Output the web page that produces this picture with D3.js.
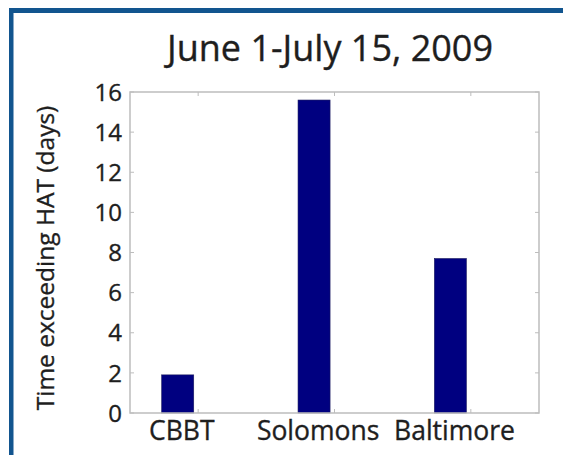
<!DOCTYPE html>
<html>
<head>
<meta charset="utf-8">
<script src="https://d3js.org/d3.v7.min.js"></script>
<style>
  html, body { margin: 0; padding: 0; background: #fff; }
  svg { display: block; }
  text { font-family: "Open Sans", "Noto Sans", sans-serif; fill: #1e1e1e; stroke: #1e1e1e; stroke-width: 0.35px; }
</style>
</head>
<body>
<script>
const categories = ["CBBT", "Solomons", "Baltimore"];
const values = [1.9, 15.6, 7.7];
const yTicks = [0, 2, 4, 6, 8, 10, 12, 14, 16];
const title = "June 1-July 15, 2009";
const yLabel = "Time exceeding HAT (days)";

(function () {
const W = 563, H = 455;
const svg = d3.select("body").append("svg").attr("width", W).attr("height", H);

// blue frame
svg.append("rect").attr("x", 9).attr("y", 8).attr("width", W - 9).attr("height", 5).attr("fill", "#12558f");
svg.append("rect").attr("x", 9).attr("y", 8).attr("width", 4.5).attr("height", H - 8).attr("fill", "#12558f");

const pL = 130, pR = 539, pT = 92, pB = 413;
const x = d3.scaleLinear().domain([0.5, categories.length + 0.5]).range([pL, pR]);
const y = d3.scaleLinear().domain([0, 16]).range([pB, pT]);

const barOffset = -0.15, barWidth = 0.235;

// bars
svg.selectAll("rect.bar").data(values).join("rect")
  .attr("class", "bar")
  .attr("x", (d, i) => x(i + 1 + barOffset - barWidth / 2))
  .attr("width", x(barWidth) - x(0))
  .attr("y", d => y(d))
  .attr("height", d => y(0) - y(d))
  .attr("fill", "#000080")
  .attr("stroke", "#1a1a5e")
  .attr("stroke-width", 0.6);

// axes box
const g = svg.append("g");
g.append("rect").attr("x", pL).attr("y", pT).attr("width", pR - pL).attr("height", pB - pT)
  .attr("fill", "none").attr("stroke", "#bdbdbd").attr("stroke-width", 1.5);

const tl = 4;
yTicks.forEach(t => {
  g.append("line").attr("x1", pL).attr("x2", pL + tl).attr("y1", y(t)).attr("y2", y(t)).attr("stroke", "#bdbdbd");
  g.append("line").attr("x1", pR).attr("x2", pR - tl).attr("y1", y(t)).attr("y2", y(t)).attr("stroke", "#bdbdbd");
});
categories.forEach((c, i) => {
  g.append("line").attr("x1", x(i + 1)).attr("x2", x(i + 1)).attr("y1", pB).attr("y2", pB - tl).attr("stroke", "#bdbdbd");
  g.append("line").attr("x1", x(i + 1)).attr("x2", x(i + 1)).attr("y1", pT).attr("y2", pT + tl).attr("stroke", "#bdbdbd");
});

svg.selectAll("text.ytick").data(yTicks).join("text")
  .attr("class", "ytick")
  .attr("x", pL - 8)
  .attr("y", d => y(d))
  .attr("dy", "0.36em")
  .attr("text-anchor", "end")
  .attr("font-size", 24)
  .text(d => d);

svg.selectAll("text.xtick").data(categories).join("text")
  .attr("class", "xtick")
  .attr("x", (d, i) => x(i + 1 - 0.12))
  .attr("y", 440)
  .attr("text-anchor", "middle")
  .attr("font-size", 26.5)
  .text(d => d);

svg.append("text").attr("x", 330).attr("y", 61).attr("text-anchor", "middle")
  .attr("font-size", 36).text(title);

svg.append("text").attr("transform", "translate(54,258) rotate(-90)")
  .attr("text-anchor", "middle").attr("font-size", 24.5).text(yLabel);
})();
</script>
</body>
</html>
